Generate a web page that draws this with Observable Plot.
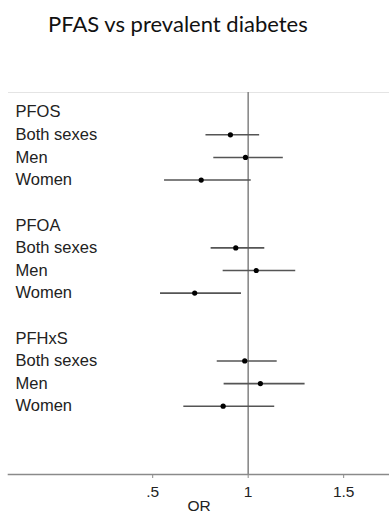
<!DOCTYPE html>
<html>
<head>
<meta charset="utf-8">
<script src="https://cdn.jsdelivr.net/npm/d3@7"></script>
<script src="https://cdn.jsdelivr.net/npm/@observablehq/plot@0.6"></script>
<style>
  html, body { margin: 0; padding: 0; background: #fff; }
  #wrap { position: relative; width: 389px; height: 514px; overflow: hidden; }
  #title { position: absolute; left: 48px; top: 10px; font-family: Lato, "Open Sans", sans-serif; font-size: 22px; color: #111; white-space: nowrap; }
  #chart { position: absolute; left: 0; top: 60px; }
</style>
</head>
<body>
<div id="wrap">
  <div id="title">PFAS vs prevalent diabetes</div>
  <div id="chart"></div>
</div>
<script>
const exposures = ["PFOS", "PFOA", "PFHxS"];
const subgroups = ["Both sexes", "Men", "Women"];
// odds ratios and 95% CI, per exposure, in subgroup order
const orValues = [
  [0.907, 0.986, 0.754],
  [0.935, 1.042, 0.720],
  [0.982, 1.064, 0.869]
];
const ciLow = [
  [0.779, 0.820, 0.562],
  [0.806, 0.869, 0.541],
  [0.838, 0.874, 0.663]
];
const ciHigh = [
  [1.060, 1.184, 1.016],
  [1.087, 1.249, 0.965],
  [1.152, 1.298, 1.139]
];
const tickValues = [0.5, 1, 1.5];
const tickLabels = [".5", "1", "1.5"];

const labels = [];
const estimates = [];
exposures.forEach((e, g) => {
  labels.push({row: g * 5, text: e});
  subgroups.forEach((s, j) => {
    const row = g * 5 + 1 + j;
    labels.push({row, text: s});
    estimates.push({row, or: orValues[g][j], lo: ciLow[g][j], hi: ciHigh[g][j]});
  });
});

const plot = Plot.plot({
  width: 389,
  height: 454,
  marginLeft: 8,
  marginRight: 0,
  marginTop: 32,
  marginBottom: 40,
  style: {fontFamily: "'Liberation Sans', Arial, sans-serif", background: "white"},
  x: {domain: [-0.255, 1.740]},
  y: {domain: [-0.871, 16.02], reverse: true, axis: null},
  marks: [
    Plot.frame({anchor: "top", stroke: "#e4e4e4", strokeWidth: 1}),
    Plot.ruleX([1], {stroke: "#8a8a8a", strokeWidth: 1.6}),
    Plot.frame({anchor: "bottom", stroke: "#8a8a8a", strokeWidth: 1.6}),
    Plot.axisX({
      ticks: tickValues,
      tickFormat: d => tickLabels[tickValues.indexOf(d)],
      tickSize: 4,
      tickPadding: 7,
      fontSize: 15.5,
      stroke: "#8a8a8a",
      fill: "#222",
      label: "OR",
      labelArrow: "none",
      labelAnchor: "center",
      labelOffset: 36
    }),
    Plot.ruleY(estimates, {y: "row", x1: "lo", x2: "hi", stroke: "#555", strokeWidth: 1.6}),
    Plot.dot(estimates, {x: "or", y: "row", r: 2.6, fill: "#000", stroke: null}),
    Plot.text(labels, {y: "row", text: "text", frameAnchor: "left", textAnchor: "start", dx: 7, fontSize: 16.5, fill: "#222"})
  ]
});
document.getElementById("chart").appendChild(plot);
</script>
</body>
</html>
